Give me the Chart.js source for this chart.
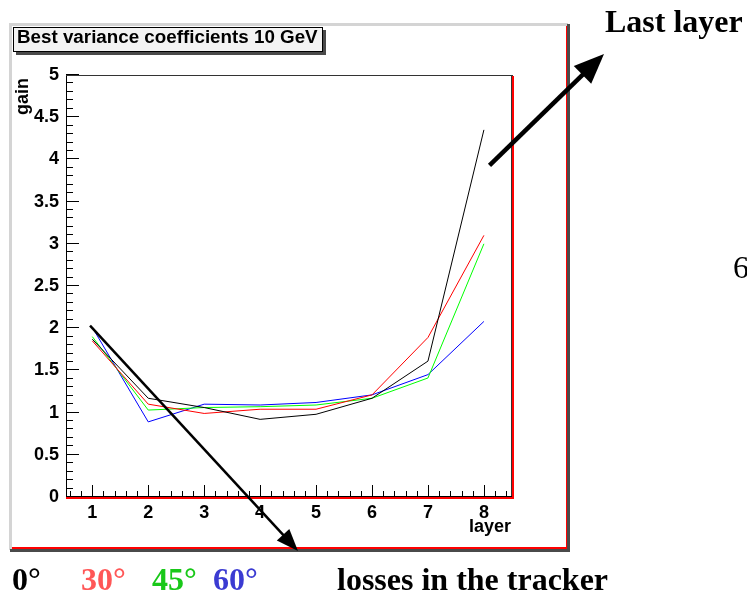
<!DOCTYPE html>
<html>
<head>
<meta charset="utf-8">
<title>Best variance coefficients 10 GeV</title>
<script src="https://cdn.jsdelivr.net/npm/chart.js@4.4.1/dist/chart.umd.min.js"></script>
<style>
  html, body { margin: 0; padding: 0; background: #fff; }
  #wrap { width: 747px; height: 594px; overflow: hidden; }
</style>
</head>
<body>
<div id="wrap"><canvas id="gainChart" width="747" height="594"></canvas></div>
<script>
// gain per layer, one series per incidence angle
const layers = [1, 2, 3, 4, 5, 6, 7, 8];
const gain0 = [1.87, 1.17, 1.06, 0.92, 0.98, 1.17, 1.61, 4.35];
const gain30 = [1.85, 1.10, 0.99, 1.04, 1.04, 1.21, 1.89, 3.10];
const gain45 = [1.90, 1.03, 1.06, 1.07, 1.09, 1.17, 1.41, 3.00];
const gain60 = [2.01, 0.89, 1.10, 1.09, 1.12, 1.21, 1.45, 2.08];
const angleLabels = ['0°', '30°', '45°', '60°'];
const yTicks = [0, 0.5, 1, 1.5, 2, 2.5, 3, 3.5, 4, 4.5, 5];
const xTicks = layers;

const lineColors = ['#000000', '#ff0000', '#00ff00', '#0000ff'];
const noteColors = ['#000000', '#ff5757', '#19c819', '#3b3bd2'];

const rootFont = 'Liberation Sans, Arial, sans-serif';
const noteFont = 'Liberation Serif, Times New Roman, serif';

const series = [gain0, gain30, gain45, gain60];

function arrow(ctx, x1, y1, x2, y2, width, headLen, headW) {
  const a = Math.atan2(y2 - y1, x2 - x1);
  const c = Math.cos(a), s = Math.sin(a);
  ctx.strokeStyle = '#000';
  ctx.fillStyle = '#000';
  ctx.lineWidth = width;
  ctx.beginPath();
  ctx.moveTo(x1, y1);
  ctx.lineTo(x2 - c * headLen * 0.7, y2 - s * headLen * 0.7);
  ctx.stroke();
  ctx.beginPath();
  ctx.moveTo(x2, y2);
  ctx.lineTo(x2 - headLen * c + headW / 2 * s, y2 - headLen * s - headW / 2 * c);
  ctx.lineTo(x2 - headLen * c - headW / 2 * s, y2 - headLen * s + headW / 2 * c);
  ctx.closePath();
  ctx.fill();
}

const rootStyle = {
  id: 'rootStyle',
  beforeDraw(chart) {
    const ctx = chart.ctx;
    ctx.save();
    ctx.fillStyle = '#fff';
    ctx.fillRect(0, 0, chart.width, chart.height);
    // pad bevel
    ctx.fillStyle = '#d4d4d4';
    ctx.fillRect(9, 23, 559, 3);
    ctx.fillRect(9, 23, 3, 527);
    ctx.fillStyle = '#4a4a4a';
    ctx.fillRect(567, 24, 3, 528);
    ctx.fillRect(10, 549, 560, 3);
    ctx.fillStyle = '#ff0000';
    ctx.fillRect(566, 26, 1, 523);
    ctx.fillRect(12, 547, 555, 2);
    ctx.restore();
  },
  afterDatasetsDraw(chart) {
    const { ctx, chartArea: a, scales: { x, y } } = chart;
    ctx.save();
    // frame
    ctx.fillStyle = '#000';
    ctx.fillRect(a.left, a.top, 1, a.bottom - a.top);
    ctx.fillStyle = '#333';
    ctx.fillRect(a.left, a.top, a.right - a.left, 1);
    ctx.fillRect(a.right - 2, a.top, 1, a.bottom - a.top);
    ctx.fillStyle = '#000';
    ctx.fillRect(a.left, a.bottom - 1, a.right - a.left, 1);
    ctx.fillStyle = '#ff0000';
    ctx.fillRect(a.left, a.bottom, a.right - a.left + 1, 2);
    ctx.fillRect(a.right - 1, a.top + 1, 2, a.bottom - a.top);

    // ticks inside the frame, 5 subdivisions per major step
    ctx.strokeStyle = '#000';
    ctx.lineWidth = 1;
    ctx.beginPath();
    for (let i = 0; i <= 50; i++) {
      const py = Math.round(y.getPixelForValue(i / 10)) - 0.5;
      const len = i % 5 === 0 ? 13 : 7;
      ctx.moveTo(a.left, py);
      ctx.lineTo(a.left + len, py);
    }
    for (let i = Math.ceil(x.min * 5); i <= Math.floor(x.max * 5); i++) {
      const px = Math.round(x.getPixelForValue(i / 5)) + 0.5;
      const len = i % 5 === 0 ? 12 : 6;
      ctx.moveTo(px, a.bottom);
      ctx.lineTo(px, a.bottom - len);
    }
    ctx.stroke();
    ctx.restore();
  },
  afterDraw(chart) {
    const { ctx, chartArea: a, scales: { x, y } } = chart;
    ctx.save();
    // axis titles
    ctx.fillStyle = '#000';
    ctx.font = 'bold 18px ' + rootFont;
    ctx.textAlign = 'right';
    ctx.textBaseline = 'alphabetic';
    ctx.fillText('layer', a.right - 2, 532);
    ctx.save();
    ctx.translate(28, a.top + 3);
    ctx.rotate(-Math.PI / 2);
    ctx.fillText('gain', 0, 0);
    ctx.restore();

    // title box
    ctx.fillStyle = '#4a4a4a';
    ctx.fillRect(16, 52, 310, 3);
    ctx.fillRect(323, 30, 3, 25);
    ctx.fillStyle = '#f3f3f3';
    ctx.fillRect(13, 27, 310, 25);
    ctx.strokeStyle = '#000';
    ctx.lineWidth = 1;
    ctx.strokeRect(13.5, 27.5, 309, 24);
    ctx.fillStyle = '#000';
    ctx.textAlign = 'left';
    ctx.font = 'bold 18.8px ' + rootFont;
    ctx.fillText('Best variance coefficients 10 GeV', 17, 43);

    // annotations around the plot
    arrow(ctx, x.getPixelForValue(0.96), y.getPixelForValue(2.03), 298, 551, 2.5, 22, 17);
    arrow(ctx, x.getPixelForValue(8.1), y.getPixelForValue(3.93), 604, 54, 4.5, 30, 25);

    ctx.font = 'bold 32px ' + noteFont;
    ctx.fillStyle = '#000';
    ctx.fillText('Last layer', 605, 32);
    ctx.font = '32px ' + noteFont;
    ctx.fillText('6', 733, 278);

    ctx.font = 'bold 32px ' + noteFont;
    const noteX = [12, 81, 152, 213];
    angleLabels.forEach((t, i) => {
      ctx.fillStyle = noteColors[i];
      ctx.fillText(t, noteX[i], 590);
    });
    ctx.fillStyle = '#000';
    ctx.fillText('losses in the tracker', 337, 590);
    ctx.restore();
  }
};

const tickFont = { family: rootFont, weight: 'bold', size: 18 };

new Chart(document.getElementById('gainChart'), {
  type: 'scatter',
  data: {
    datasets: series.map((vals, i) => ({
      label: angleLabels[i],
      data: layers.map((l, j) => ({ x: l, y: vals[j] })),
      showLine: true,
      borderColor: lineColors[i],
      backgroundColor: lineColors[i],
      borderWidth: 1,
      pointRadius: 0,
      tension: 0
    }))
  },
  options: {
    responsive: false,
    animation: false,
    devicePixelRatio: 1,
    layout: { padding: { left: 26, top: 75, right: 234, bottom: 57 } },
    plugins: {
      legend: { display: false },
      tooltip: { enabled: false },
      title: { display: false }
    },
    scales: {
      x: {
        type: 'linear',
        min: 0.53,
        max: 8.52,
        grid: { display: false, drawTicks: false },
        border: { display: false },
        afterBuildTicks: s => { s.ticks = xTicks.map(v => ({ value: v })); },
        afterFit: s => { s.height = 40; },
        ticks: { padding: 5, color: '#000', font: tickFont, maxRotation: 0, autoSkip: false, callback: v => String(v) }
      },
      y: {
        type: 'linear',
        min: 0,
        max: 5,
        grid: { display: false, drawTicks: false },
        border: { display: false },
        afterBuildTicks: s => { s.ticks = yTicks.map(v => ({ value: v })); },
        afterFit: s => { s.width = 40; },
        ticks: { padding: 7, color: '#000', font: tickFont, autoSkip: false, callback: v => String(v) }
      }
    }
  },
  plugins: [rootStyle]
});
</script>
</body>
</html>
